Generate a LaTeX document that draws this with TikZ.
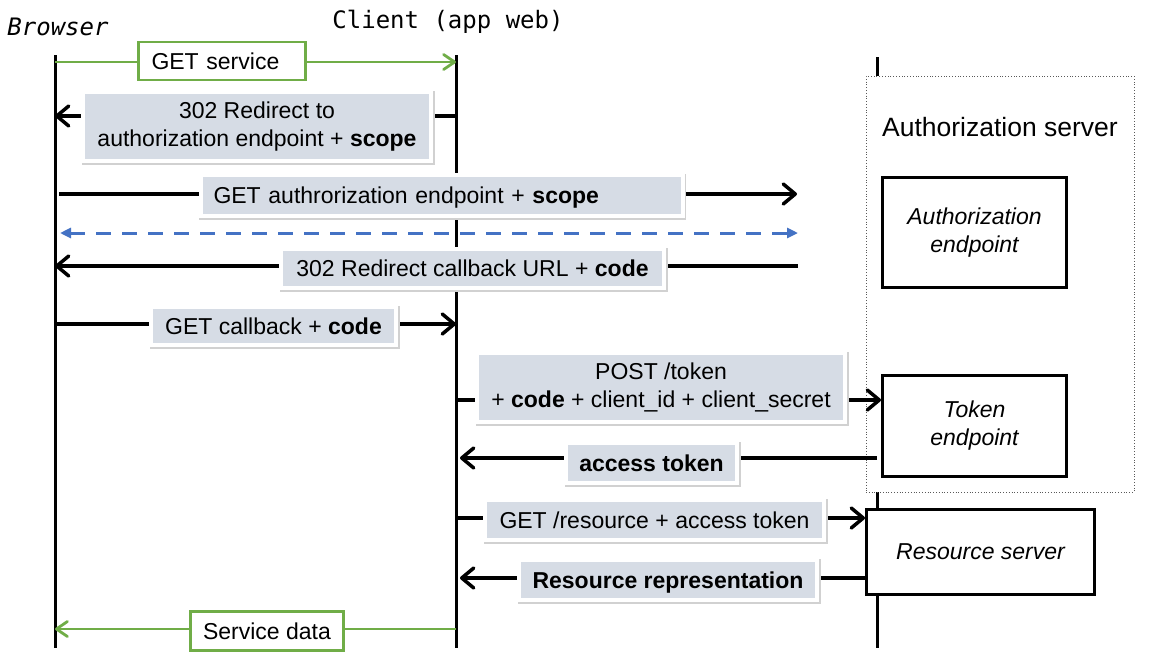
\documentclass[tikz,border=0pt]{standalone}
\usepackage{fontspec}
\setmainfont{Liberation Sans}
\newfontfamily\monofont{DejaVu Sans Mono}
\usetikzlibrary{arrows.meta}
\definecolor{lblfill}{HTML}{D6DCE5}
\definecolor{grn}{HTML}{70AD47}
\definecolor{blu}{HTML}{4472C4}
\begin{document}
\begin{tikzpicture}[x=1pt,y=-1pt,
  every node/.style={font=\fontsize{23}{28}\selectfont, inner sep=0pt},
  lbl/.style={fill=lblfill, draw=white, line width=4pt, align=center,
    preaction={draw=black!18, line width=5pt, transform canvas={xshift=1.2pt,yshift=-1.5pt}}},
  one/.style={text height=16.5pt, text depth=0pt},
  gbox/.style={fill=white, draw=grn, line width=2.8pt, align=center},
  ebox/.style={draw=black, line width=3pt, fill=white, align=center, font=\fontsize{23}{28}\selectfont\itshape},
  life/.style={line width=3pt},
  msg/.style={line width=3.5pt, -{Straight Barb[length=12pt,width=20pt,round]}},
  gmsg/.style={grn, line width=2.8pt, -{Straight Barb[length=11pt,width=15pt,round]}},
  dmsg/.style={blu, line width=3pt, dash pattern=on 15pt off 11pt, {Triangle[length=11pt,width=10pt]}-{Triangle[length=11pt,width=10pt]}},
  mono/.style={font=\fontsize{24}{28}\selectfont\monofont},
]
\fill[white] (0,0) rectangle (1150,670);
\useasboundingbox (0,0) rectangle (1150,670);

% headers
\node[mono, anchor=base] (hb) at (58,35) {\itshape Browser};
\node[mono, anchor=base] (hc) at (448,28) {Client (app web)};

% lifelines
\coordinate (bT) at (55,55); \coordinate (bB) at (55,648);
\coordinate (cT) at (456,55); \coordinate (cB) at (456,648);
\coordinate (sT) at (877,57); \coordinate (sB) at (877,648);
\draw[life] (bT) -- (bB);
\draw[life] (cT) -- (cB);
\draw[life] (sT) -- (sB);

% authorization server
\node[draw=black!65, dotted, line width=0.8pt, fill=white, minimum width=268, minimum height=416] (asv) at (1000,284) {};
\node[font=\fontsize{26.5}{30}\selectfont] (asvt) at (1000,127) {Authorization server};
\node[ebox, minimum width=184, minimum height=110] (ae) at (974.5,232.5) {Authorization\\endpoint};
\node[ebox, minimum width=184, minimum height=101] (te) at (974.5,426) {Token\\endpoint};
\node[ebox, minimum width=228, minimum height=85] (rs) at (980.5,552) {Resource server};

% message end points
\coordinate (m1a) at (55,62);   \coordinate (m1b) at (456,62);
\coordinate (m2a) at (456,116); \coordinate (m2b) at (55,116);
\coordinate (m3a) at (59,194);  \coordinate (m3b) at (797,194);
\coordinate (m4a) at (60,233);  \coordinate (m4b) at (798,233);
\coordinate (m5a) at (798,266); \coordinate (m5b) at (55,266);
\coordinate (m6a) at (55,324);  \coordinate (m6b) at (456,324);
\coordinate (m7a) at (456,400);
\coordinate (m8a) at (877,458); \coordinate (m8b) at (460,458);
\coordinate (m9a) at (456,518);
\coordinate (m10b) at (460,578);
\coordinate (m11a) at (456,629); \coordinate (m11b) at (55,629);

\draw[gmsg] (m1a) -- (m1b);
\draw[msg] (m2a) -- (m2b);
\draw[msg] (m3a) -- (m3b);
\draw[dmsg] (m4a) -- (m4b);
\draw[msg] (m5a) -- (m5b);
\draw[msg] (m6a) -- (m6b);
\draw[msg] (m7a) -- (m7a -| te.west);
\draw[msg] (m8a) -- (m8b);
\draw[msg] (m9a) -- (m9a -| rs.west);
\draw[msg] (m10b -| rs.west) -- (m10b);
\draw[gmsg] (m11a) -- (m11b);

% labels
\node[gbox, one, text width=141pt, inner xsep=13pt, align=left, minimum height=38] (l1) at (222,61) {GET service};
\node[lbl, minimum width=348, minimum height=69] (l2) at (257,126.5) {302 Redirect to\\authorization endpoint + \textbf{scope}};
\node[lbl, one, text width=456pt, inner xsep=13pt, align=left, minimum height=41] (l3) at (441.5,195.5) {GET authrorization endpoint + \textbf{scope}};
\node[lbl, one, minimum width=383, minimum height=39] (l5) at (472.5,268.5) {302 Redirect callback URL + \textbf{code}};
\node[lbl, one, minimum width=245, minimum height=38] (l6) at (273.5,326) {GET callback + \textbf{code}};
\node[lbl, minimum width=368, minimum height=69] (l7) at (661,387.5) {POST /token\\+ \textbf{code} + client\_id + client\_secret};
\node[lbl, one, minimum width=171, minimum height=40] (l8) at (651.5,463) {\textbf{access token}};
\node[lbl, one, minimum width=339, minimum height=40] (l9) at (654.5,520) {GET /resource + access token};
\node[lbl, one, minimum width=298, minimum height=40] (l10) at (668,580) {\textbf{Resource representation}};
\node[gbox, one, minimum width=153, minimum height=39] (l11) at (267,631) {Service data};
\end{tikzpicture}
\end{document}
